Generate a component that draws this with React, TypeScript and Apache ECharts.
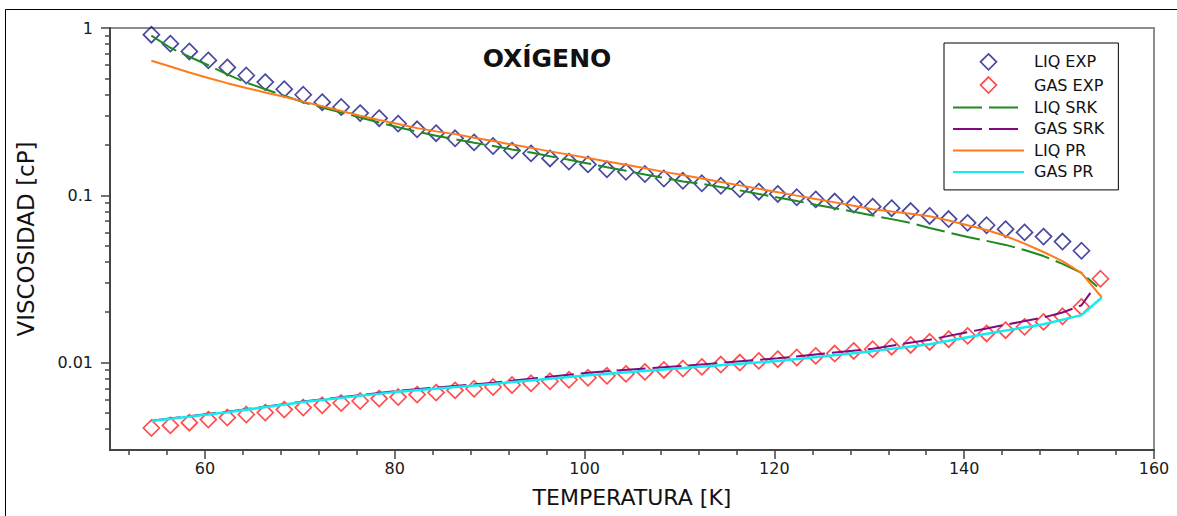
import React, { useEffect, useRef } from 'react';
import * as echarts from 'echarts';

// Temperatures (K) of the experimental points
const expT = [54.36, 56.36, 58.36, 60.36, 62.36, 64.36, 66.36, 68.36, 70.36, 72.36,
  74.36, 76.36, 78.36, 80.36, 82.36, 84.36, 86.36, 88.36, 90.36, 92.36,
  94.36, 96.36, 98.36, 100.36, 102.36, 104.36, 106.36, 108.36, 110.36, 112.36,
  114.36, 116.36, 118.36, 120.36, 122.36, 124.36, 126.36, 128.36, 130.36, 132.36,
  134.36, 136.36, 138.36, 140.36, 142.36, 144.36, 146.36, 148.36, 150.36, 152.36];
const gasT = [...expT, 154.36];

// Viscosity (cP)
const liqExp = [0.912, 0.806, 0.724, 0.640, 0.581, 0.520, 0.475, 0.431, 0.399, 0.360,
  0.337, 0.310, 0.289, 0.268, 0.248, 0.235, 0.219, 0.207, 0.197, 0.185,
  0.178, 0.166, 0.159, 0.153, 0.143, 0.138, 0.134, 0.126, 0.122, 0.118,
  0.114, 0.109, 0.105, 0.1018, 0.0973, 0.0945, 0.0917, 0.088, 0.0855, 0.0837,
  0.0805, 0.0752, 0.0721, 0.0684, 0.0662, 0.0627, 0.0600, 0.0566, 0.0529, 0.0466];
const gasExp = [0.00406, 0.00421, 0.00437, 0.00456, 0.00469, 0.00489, 0.00502, 0.00523, 0.00538, 0.00555,
  0.00573, 0.00589, 0.00609, 0.00622, 0.00643, 0.00661, 0.00682, 0.00697, 0.00714, 0.00734,
  0.00752, 0.00773, 0.00789, 0.00811, 0.00833, 0.00855, 0.00879, 0.00903, 0.00921, 0.00942,
  0.00973, 0.0100, 0.01023, 0.01047, 0.01072, 0.01096, 0.01132, 0.01173, 0.01201, 0.01244,
  0.01274, 0.01328, 0.01379, 0.01443, 0.01492, 0.01561, 0.01634, 0.0175, 0.0189, 0.0215, 0.0317];

const liqSrkT = [...expT, 154.0];
const liqSrk = [0.90, 0.762, 0.673, 0.599, 0.528, 0.472, 0.430, 0.394, 0.360, 0.335,
  0.312, 0.292, 0.272, 0.255, 0.240, 0.227, 0.216, 0.206, 0.197, 0.188,
  0.180, 0.171, 0.163, 0.155, 0.147, 0.140, 0.133, 0.127, 0.121, 0.117,
  0.112, 0.107, 0.1018, 0.097, 0.0924, 0.0878, 0.0837, 0.0797, 0.0757, 0.072,
  0.0683, 0.0637, 0.0599, 0.0563, 0.0534, 0.0505, 0.0471, 0.0433, 0.0389, 0.0344, 0.0285];

const liqPrT = [...expT, 154.5];
const liqPr = [0.637, 0.588, 0.542, 0.503, 0.468, 0.438, 0.412, 0.388, 0.363, 0.341,
  0.319, 0.299, 0.282, 0.267, 0.252, 0.241, 0.232, 0.221, 0.211, 0.201,
  0.192, 0.183, 0.175, 0.167, 0.159, 0.152, 0.145, 0.138, 0.132, 0.126,
  0.120, 0.1146, 0.1093, 0.1044, 0.0995, 0.095, 0.0907, 0.0865, 0.0826, 0.0800,
  0.0775, 0.0749, 0.0706, 0.0661, 0.062, 0.0571, 0.0514, 0.0458, 0.0404, 0.0343, 0.0245];

const gasSrkT = [54.36, 62.36, 70.36, 80.36, 90.36, 100.36, 110.36, 120.36, 130.36, 136.36, 142.36, 148.36, 150.36, 152.36, 153.3];
const gasSrk = [0.00449, 0.00508, 0.00585, 0.00678, 0.00757, 0.0087, 0.00955, 0.0106, 0.0121, 0.0137, 0.0160, 0.0186, 0.0199, 0.0220, 0.0261];

const gasPrT = [54.36, 62.36, 70.36, 80.36, 90.36, 100.36, 110.36, 120.36, 130.36, 136.36, 142.36, 148.36, 152.36, 154.5];
const gasPr = [0.00447, 0.00505, 0.00580, 0.00670, 0.00745, 0.0084, 0.00927, 0.0102, 0.0117, 0.01288, 0.01485, 0.01695, 0.0192, 0.0245];

// Axis ticks
const xMajor = [60, 80, 100, 120, 140, 160];
const xMinor = [52, 56, 64, 68, 72, 76, 84, 88, 92, 96, 104, 108, 112, 116, 124, 128, 132, 136, 144, 148, 152, 156];
const yMajor = [0.01, 0.1, 1];
const yMinor = [0.004, 0.005, 0.006, 0.007, 0.008, 0.009,
  0.02, 0.03, 0.04, 0.05, 0.06, 0.07, 0.08, 0.09,
  0.2, 0.3, 0.4, 0.5, 0.6, 0.7, 0.8, 0.9];

const names = ['LIQ EXP', 'GAS EXP', 'LIQ SRK', 'GAS SRK', 'LIQ PR', 'GAS PR'];
const colors = ['#1a1a88', '#ff1f1f', '#1f8a1f', '#800a80', '#ff7a1a', '#10ecf0'];

const FONT = 'DejaVu Sans';
const AX = '#444';
const DIAMOND = 'path://M8 0L16 8L8 16L0 8Z';
const DASH = [29, 7];

const pairs = (xs: number[], ys: number[]) => xs.map((x, i) => [x, ys[i]]);

export default function App() {
  const ref = useRef<HTMLDivElement>(null);
  useEffect(() => {
    const chart = echarts.init(ref.current!, null, { renderer: 'svg' });
    const tickStyle = { color: AX, width: 1.5 };
    const legendData = names.map((n, i) =>
      i < 2
        ? { name: n, icon: DIAMOND, itemStyle: { color: 'rgba(255,255,255,0)', borderColor: colors[i], borderWidth: 1.7 } }
        : { name: n, itemStyle: { opacity: 0, color: 'rgba(255,255,255,0)', borderWidth: 0 } }
    );
    const option: any = {
      animation: false,
      backgroundColor: '#fff',
      grid: {
        left: 110, right: 23, top: 28, bottom: 66,
        show: true, borderColor: '#8c8c8c', borderWidth: 2,
        containLabel: false, outerBoundsMode: 'none',
      },
      graphic: [
        {
          type: 'rect', silent: true,
          shape: { x: 5.5, y: 9.5, width: 1300, height: 700 },
          style: { fill: 'none', stroke: '#000', lineWidth: 1 },
        },
        {
          type: 'text', x: 547, y: 58,
          style: {
            text: 'OXÍGENO', font: 'bold 25px "DejaVu Sans"', fill: '#111',
            textAlign: 'center', textVerticalAlign: 'middle',
          },
        },
      ],
      xAxis: [
        {
          type: 'value', min: 50, max: 160, position: 'bottom',
          axisLine: { show: true, onZero: false, lineStyle: { color: AX, width: 2 } },
          axisTick: { show: true, customValues: xMajor, length: 9, lineStyle: tickStyle },
          axisLabel: { customValues: xMajor, margin: 10, fontSize: 16, fontFamily: FONT, color: '#1a1a1a' },
          splitLine: { show: false },
          name: 'TEMPERATURA [K]', nameLocation: 'middle', nameGap: 36,
          nameTextStyle: { fontSize: 22, fontFamily: FONT, color: '#111' },
        },
        {
          type: 'value', min: 50, max: 160, position: 'bottom',
          axisLine: { show: false, onZero: false },
          axisTick: { show: true, customValues: xMinor, length: 5, lineStyle: tickStyle },
          axisLabel: { show: false },
          splitLine: { show: false },
        },
      ],
      yAxis: [
        {
          type: 'log', logBase: 10, min: 0.003, max: 1, position: 'left',
          axisLine: { show: true, onZero: false, lineStyle: { color: AX, width: 2 } },
          axisTick: { show: true, customValues: yMajor, length: 9, lineStyle: tickStyle },
          axisLabel: {
            customValues: yMajor, margin: 17, fontSize: 16, fontFamily: FONT, color: '#1a1a1a',
            formatter: (v: number) => (v >= 1 ? '1' : String(Number(v.toPrecision(3)))),
          },
          splitLine: { show: false },
          name: 'VISCOSIDAD [cP]', nameLocation: 'middle', nameGap: 73, nameRotate: 90,
          nameTextStyle: { fontSize: 23, fontFamily: FONT, color: '#111' },
        },
        {
          type: 'log', logBase: 10, min: 0.003, max: 1, position: 'left',
          axisLine: { show: false, onZero: false },
          axisTick: { show: true, customValues: yMinor, length: 5, lineStyle: tickStyle },
          axisLabel: { show: false },
          splitLine: { show: false },
        },
      ],
      legend: {
        orient: 'vertical', left: 944, top: 43,
        data: legendData,
        padding: [10, 14, 10, 8],
        itemWidth: 71, itemHeight: 16, itemGap: 5.5,
        symbolKeepAspect: true,
        backgroundColor: '#fff', borderColor: '#000', borderWidth: 1,
        textStyle: { fontSize: 16, lineHeight: 16, fontFamily: FONT, color: '#111', padding: [0, 0, 0, 5] },
      },
      series: [
        {
          name: names[0], type: 'scatter', data: pairs(expT, liqExp),
          symbol: 'diamond', symbolSize: 16, color: colors[0], symbolKeepAspect: true,
          itemStyle: { color: 'rgba(255,255,255,0)', borderColor: colors[0], borderWidth: 1.7 },
        },
        {
          name: names[1], type: 'scatter', data: pairs(gasT, gasExp),
          symbol: 'diamond', symbolSize: 16, color: colors[1], symbolKeepAspect: true,
          itemStyle: { color: 'rgba(255,255,255,0)', borderColor: colors[1], borderWidth: 1.7 },
        },
        {
          name: names[2], type: 'line', data: pairs(liqSrkT, liqSrk), symbol: 'none', showSymbol: false,
          color: colors[2], lineStyle: { color: colors[2], width: 2, type: DASH },
        },
        {
          name: names[3], type: 'line', data: pairs(gasSrkT, gasSrk), symbol: 'none', showSymbol: false,
          color: colors[3], lineStyle: { color: colors[3], width: 2, type: DASH },
        },
        {
          name: names[4], type: 'line', data: pairs(liqPrT, liqPr), symbol: 'none', showSymbol: false,
          color: colors[4], lineStyle: { color: colors[4], width: 2 },
        },
        {
          name: names[5], type: 'line', data: pairs(gasPrT, gasPr), symbol: 'none', showSymbol: false,
          color: colors[5], lineStyle: { color: colors[5], width: 2.5 },
        },
      ],
    };
    chart.setOption(option);
    return () => chart.dispose();
  }, []);
  return (
    <div
      ref={ref}
      style={{ position: 'fixed', left: 0, top: 0, width: 1177, height: 516, background: '#fff' }}
    />
  );
}
